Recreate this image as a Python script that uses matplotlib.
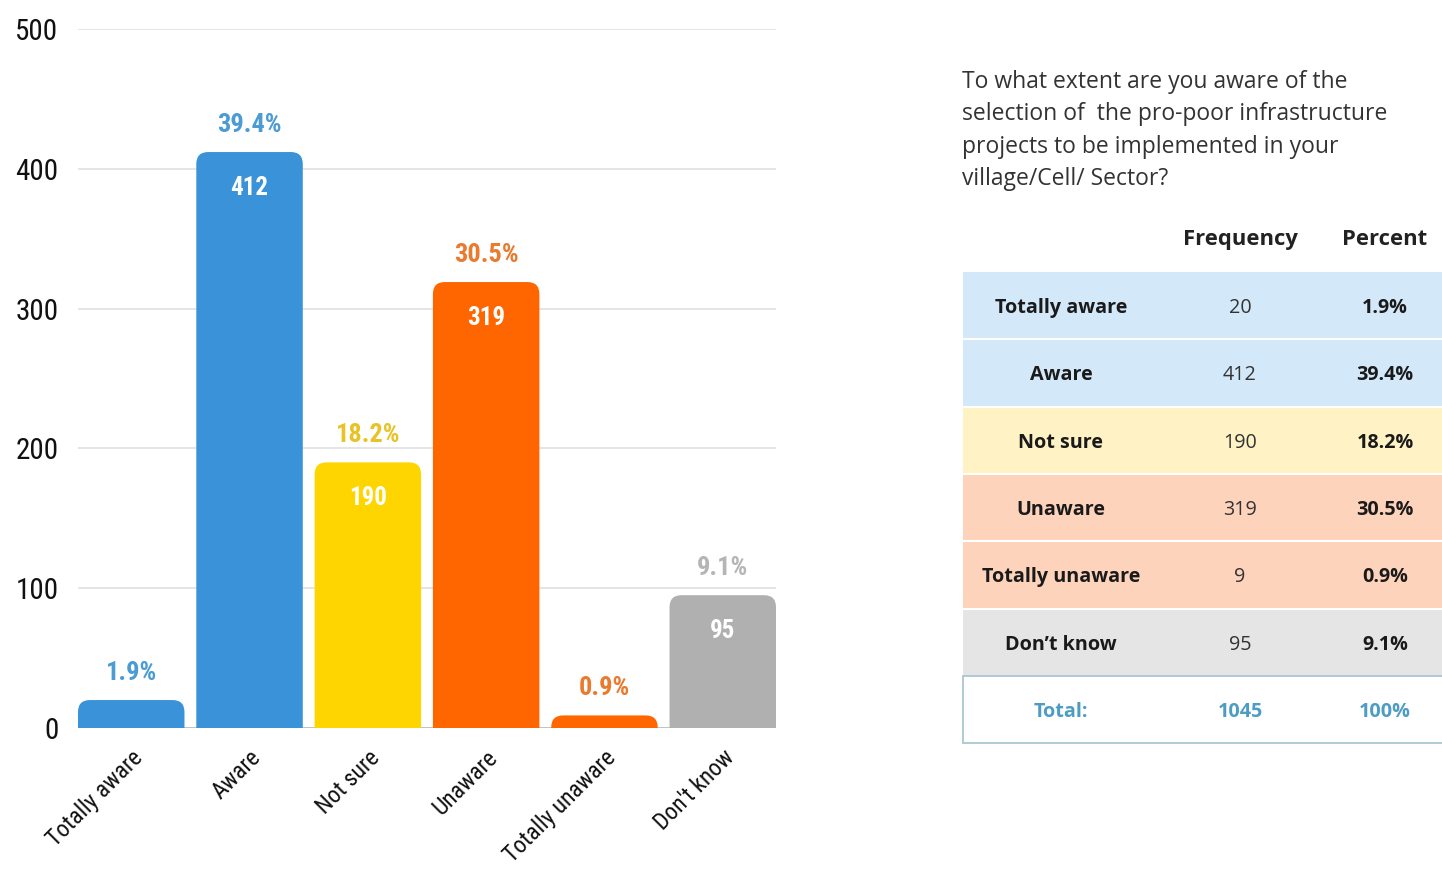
import os
import matplotlib
matplotlib.use("Agg")
import matplotlib.pyplot as plt
from matplotlib import font_manager as fm
from matplotlib.patches import FancyBboxPatch, Rectangle

# ---- data ----
categories = ["Totally aware", "Aware", "Not sure", "Unaware", "Totally unaware", "Don't know"]
table_labels = ["Totally aware", "Aware", "Not sure", "Unaware", "Totally unaware", "Don\u2019t know"]
counts = [20, 412, 190, 319, 9, 95]
y_ticks = [0, 100, 200, 300, 400, 500]
question = ("To what extent are you aware of the\n"
            "selection of  the pro-poor infrastructure\n"
            "projects to be implemented in your\n"
            "village/Cell/ Sector?")
col_headers = ["Frequency", "Percent"]

total = sum(counts)
percents = [c / total * 100 for c in counts]

# ---- styles ----
bar_colors = ["#3a93d8", "#3a93d8", "#ffd500", "#ff6600", "#ff6600", "#b0b0b0"]
pct_colors = ["#4b9bd4", "#4b9bd4", "#e8c328", "#ea7a2e", "#ea7a2e", "#b5b5b5"]
row_colors = ["#d3e9fa", "#d3e9fa", "#fff3c6", "#fdd4bb", "#fdd4bb", "#e5e5e5"]


def pick_font(candidates):
    files = {os.path.basename(f.fname): f.fname for f in fm.fontManager.ttflist}
    for c in candidates:
        for base, path in files.items():
            if base.lower() == c.lower():
                return fm.FontProperties(fname=path)
    return None


cond_reg = pick_font(["Oswald-Regular.ttf", "RobotoCondensed-Regular.ttf",
                      "LiberationSansNarrow-Regular.ttf", "DejaVuSansCondensed.ttf"])
cond_bold = pick_font(["Oswald-Bold.ttf", "RobotoCondensed-Bold.ttf",
                       "LiberationSansNarrow-Bold.ttf", "DejaVuSansCondensed-Bold.ttf"])
if cond_reg is None:
    cond_reg = fm.FontProperties(family="DejaVu Sans", stretch="condensed")
if cond_bold is None:
    cond_bold = fm.FontProperties(family="DejaVu Sans", stretch="condensed", weight="bold")

W, H = 1442, 869
fig = plt.figure(figsize=(W / 100, H / 100), dpi=100)
fig.patch.set_facecolor("white")

# ---- bar chart ----
ax_l, ax_r, ax_b, ax_t = 78, 776, 728, 29
ax = fig.add_axes([ax_l / W, 1 - ax_b / H, (ax_r - ax_l) / W, (ax_b - ax_t) / H])
n = len(counts)
ax.set_xlim(-0.45, n - 0.55)
ax.set_ylim(0, 500)
for s in ax.spines.values():
    s.set_visible(False)
ax.set_yticks(y_ticks)
ax.tick_params(length=0)
ax.yaxis.set_tick_params(pad=14)
for t in ax.get_yticklabels():
    t.set_fontproperties(cond_reg)
    t.set_fontsize(21)
    t.set_color("#111111")
ax.grid(axis="y", color="#dedede", linewidth=1.1)
ax.set_axisbelow(True)
ax.axhline(0, color="#bdbdbd", linewidth=1.2, zorder=1)

px_x = (ax_r - ax_l) / (ax.get_xlim()[1] - ax.get_xlim()[0])
px_y = (ax_b - ax_t) / 500.0
r_px = 12
rx, ry = r_px / px_x, r_px / px_y
bw = 0.9
for i, (c, col) in enumerate(zip(counts, bar_colors)):
    patch = FancyBboxPatch((i - bw / 2, -ry), bw, c + ry,
                           boxstyle=f"round,pad=0,rounding_size={rx}",
                           mutation_aspect=ry / rx,
                           facecolor=col, edgecolor="none", zorder=2)
    ax.add_patch(patch)
    ax.text(i, c + 30 / px_y, f"{percents[i]:.1f}%", ha="center", va="center_baseline",
            fontproperties=cond_bold, fontsize=19, color=pct_colors[i], zorder=3)
    if c > 50:
        ax.text(i, c - 33 / px_y, f"{c}", ha="center", va="center_baseline",
                fontproperties=cond_bold, fontsize=18, color="white", zorder=3)

ax.set_xticks(range(n))
ax.set_xticklabels(categories)
for t in ax.get_xticklabels():
    t.set_fontproperties(cond_reg)
    t.set_fontsize(17)
    t.set_rotation(45)
    t.set_rotation_mode("anchor")
    t.set_ha("right")
    t.set_va("top")
    t.set_color("#111111")
ax.xaxis.set_tick_params(pad=13)

# ---- question and table (pixel overlay) ----
ov = fig.add_axes([0, 0, 1, 1], zorder=-1)
ov.set_xlim(0, W)
ov.set_ylim(H, 0)
ov.axis("off")

ov.text(962, 70, question, ha="left", va="top", family="Open Sans",
        fontsize=16.5, color="#333333", linespacing=1.46)

x_lab, x_freq, x_pct = 1061, 1240, 1385
for x, h in zip([x_freq, x_pct], col_headers):
    ov.text(x, 237, h, ha="center", va="center_baseline", family="Open Sans",
            fontweight="bold", fontsize=15.8, color="#222222")

row_top = 272
row_h = 67.3
tbl_l, tbl_r = 963, 1442
fs = 14.2
for i, (lab, c, p) in enumerate(zip(table_labels, counts, percents)):
    y0 = row_top + i * row_h
    ov.add_patch(Rectangle((tbl_l, y0), tbl_r - tbl_l, row_h, facecolor=row_colors[i],
                           edgecolor="none"))
    if i > 0:
        ov.plot([tbl_l, tbl_r], [y0, y0], color="white", lw=1.5)
    yc = y0 + row_h / 2
    ov.text(x_lab, yc, lab, ha="center", va="center_baseline", family="Open Sans",
            fontweight="bold", fontsize=fs, color="#1a1a1a")
    ov.text(x_freq, yc, f"{c}", ha="center", va="center_baseline", family="Open Sans",
            fontsize=fs, color="#333333")
    ov.text(x_pct, yc, f"{p:.1f}%", ha="center", va="center_baseline", family="Open Sans",
            fontweight="bold", fontsize=fs, color="#1a1a1a")

y0 = row_top + n * row_h
ov.add_patch(Rectangle((tbl_l, y0), tbl_r - tbl_l + 5, row_h, facecolor="white",
                       edgecolor="#a9c6d3", lw=1.3))
yc = y0 + row_h / 2
for x, s in zip([x_lab, x_freq, x_pct], ["Total:", f"{total}", "100%"]):
    ov.text(x, yc, s, ha="center", va="center_baseline", family="Open Sans",
            fontweight="bold", fontsize=fs, color="#4d9cc3")

fig.savefig("out.png", dpi=100, facecolor="white")
